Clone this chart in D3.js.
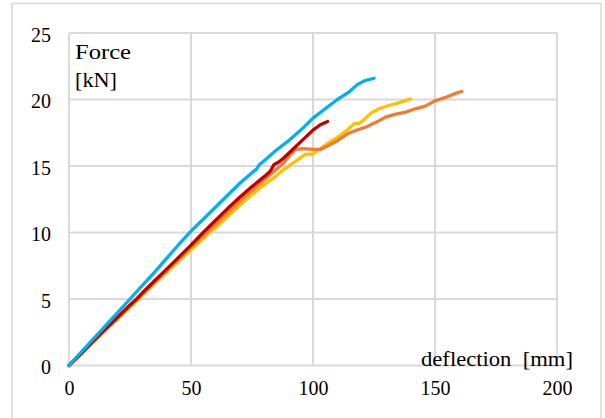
<!DOCTYPE html>
<html><head><meta charset="utf-8">
<script src="https://cdn.jsdelivr.net/npm/d3@7"></script>
</head><body style="margin:0">
<svg id="c" width="605" height="418"></svg>
<script>
const xTicks = [0, 50, 100, 150, 200];
const yTicks = [0, 5, 10, 15, 20, 25];
const seriesNames = ["yellow", "orange", "red", "blue"];
const seriesColors = ["#FFC000", "#ED7D31", "#C00000", "#00B0F0"];
const yellowData = [[0,0],[5,0.88],[10,1.78],[15,2.66],[20,3.52],[25,4.4],[28.5,5.0],[30,5.28],[35,6.15],[40,7.0],[45,7.85],[50,8.7],[55,9.55],[58,10.05],[60,10.35],[65,11.2],[70,12.05],[75,12.85],[80,13.6],[84,14.1],[87,14.6],[90,15.0],[94,15.5],[97,15.9],[100,15.9],[103,16.3],[106,16.7],[110,17.15],[114,17.7],[117,18.2],[119,18.2],[121,18.5],[124,19.0],[127,19.3],[131,19.55],[135,19.75],[140,20.05]];
const orangeData = [[0,0],[5,0.89],[10,1.8],[15,2.7],[20,3.58],[25,4.47],[30,5.35],[35,6.25],[40,7.12],[45,8.0],[50,8.9],[55,9.75],[60,10.6],[65,11.5],[70,12.35],[75,13.15],[80,13.95],[85,14.75],[88,15.25],[91,15.9],[93,16.25],[96,16.3],[100,16.25],[103,16.25],[106,16.5],[110,16.9],[114,17.4],[118,17.7],[122,17.95],[126,18.3],[130,18.7],[134,18.9],[138,19.05],[142,19.3],[146,19.5],[150,19.9],[155,20.2],[159,20.5],[161,20.6]];
const redData = [[0,0],[5,0.9],[10,1.85],[15,2.75],[20,3.65],[25,4.55],[27.7,5.0],[30,5.45],[35,6.35],[40,7.25],[45,8.15],[50,9.05],[55,10.0],[60,10.9],[65,11.8],[70,12.65],[75,13.45],[80,14.2],[82.5,14.6],[84,15.1],[86,15.3],[88,15.6],[92,16.3],[96,17.0],[100,17.7],[103,18.1],[106,18.35]];
const blueData = [[0,0],[5,1.0],[10,2.0],[15,3.0],[20,4.0],[25,5.0],[30,6.0],[35,7.0],[40,8.05],[45,9.1],[50,10.1],[55,11.0],[60,11.9],[65,12.8],[70,13.7],[75,14.5],[77,14.8],[78,15.1],[80,15.4],[85,16.2],[90,16.9],[95,17.7],[100,18.6],[105,19.3],[110,20.0],[115,20.6],[118,21.1],[121,21.4],[125,21.6]];
const allData = [yellowData, orangeData, redData, blueData];
const yLabelLines = ["Force", "[kN]"];
const xLabel = "deflection  [mm]";

const FONT = "Liberation Serif";
const svg = d3.select("#c");
const x = d3.scaleLinear().domain([0, 200]).range([69, 557]);
const y = d3.scaleLinear().domain([0, 25]).range([365.5, 33]);

// outer border
svg.append("rect").attr("x", 12).attr("y", 3.5).attr("width", 589).attr("height", 420)
  .attr("fill", "none").attr("stroke", "#d9d9d9").attr("stroke-width", 1.5);

// gridlines
svg.append("g").selectAll("line").data(yTicks).join("line")
  .attr("x1", x(0)).attr("x2", x(200)).attr("y1", d => y(d)).attr("y2", d => y(d))
  .attr("stroke", "#d9d9d9").attr("stroke-width", 2);
svg.append("g").selectAll("line").data(xTicks).join("line")
  .attr("y1", y(0)).attr("y2", y(25)).attr("x1", d => x(d)).attr("x2", d => x(d))
  .attr("stroke", "#d9d9d9").attr("stroke-width", 2);

// axes (labels only)
const yAxis = svg.append("g").attr("transform", `translate(${x(0)},0)`)
  .call(d3.axisLeft(y).tickValues(yTicks).tickSize(0).tickPadding(18));
yAxis.attr("font-family", FONT).attr("font-size", 20);
yAxis.select(".domain").remove();
yAxis.selectAll("text").attr("font-family", FONT).style("font-family", `"${FONT}"`).style("font-size", "20px")
  .attr("fill", "#000").attr("dy", "0.42em").attr("x", -18);

const xAxis = svg.append("g").attr("transform", `translate(0,${y(0)})`)
  .call(d3.axisBottom(x).tickValues(xTicks).tickSize(0).tickPadding(18));
xAxis.attr("font-family", FONT).attr("font-size", 20);
xAxis.select(".domain").remove();
xAxis.selectAll("text").attr("font-family", FONT).style("font-family", `"${FONT}"`).style("font-size", "20px")
  .attr("fill", "#000").attr("dy", "0.55em");

// lines
const line = d3.line().x(d => x(d[0])).y(d => y(d[1]));
svg.append("g").selectAll("path").data(allData).join("path")
  .attr("d", d => line(d)).attr("fill", "none")
  .attr("stroke", (d, i) => seriesColors[i]).attr("stroke-width", 3.3)
  .attr("stroke-linejoin", "round").attr("stroke-linecap", "round");

// axis titles
function title(txt, tx, ty, len) {
  svg.append("text").attr("x", tx).attr("y", ty)
    .attr("font-family", FONT).style("font-family", `"${FONT}"`).style("font-size", "21px")
    .attr("xml:space", "preserve").style("white-space", "pre")
    .attr("textLength", len).attr("lengthAdjust", "spacingAndGlyphs").text(txt);
}
title(yLabelLines[0], 75, 59, 56);
title(yLabelLines[1], 75, 87, 42);
title(xLabel, 421, 366, 152);
</script>
</body></html>
